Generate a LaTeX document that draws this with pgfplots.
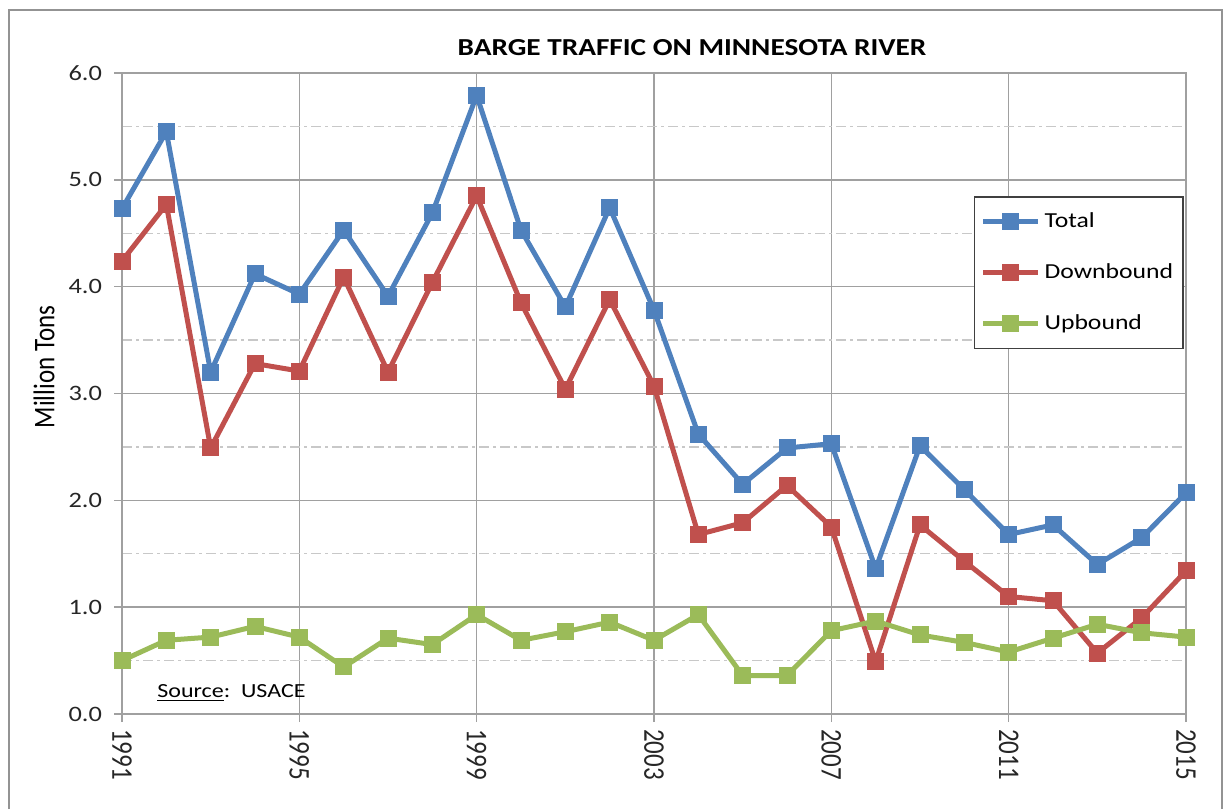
\documentclass[border=0pt]{standalone}
\usepackage{fontspec}
\setmainfont{Carlito}
\usepackage{graphicx}
\usepackage{pgfplots}
\pgfplotsset{compat=1.18}
\definecolor{tot}{HTML}{4F81BD}
\definecolor{dwn}{HTML}{C0504D}
\definecolor{upb}{HTML}{9BBB59}
\definecolor{gridc}{HTML}{A0A0A0}
\definecolor{minc}{HTML}{C8C8C8}
% the reference is stretched sideways, so text is too
\newcommand{\hs}[1]{\scalebox{1.2}[1]{#1}}
\newcommand{\vs}[1]{\scalebox{1}[1.2]{#1}}

\begin{document}
\begin{tikzpicture}
\path[use as bounding box] (-61pt,-47.5pt) rectangle (551.5pt,357pt);
\draw[gray!85, line width=1.2pt] (-56.5pt,-47.5pt) -- (-56.5pt,352pt) -- (550pt,352pt) -- (550pt,-47.5pt);
\begin{axis}[
    scale only axis,
    width=532pt, height=320.5pt,
    xmin=1991, xmax=2015, ymin=0, ymax=6,
    xtick={1991,1995,...,2015},
    ytick={0,1,...,6},
    minor y tick num=1,
    xmajorgrids, ymajorgrids, yminorgrids,
    major grid style={gridc, line width=0.75pt},
    minor grid style={minc, line width=0.6pt, dash pattern=on 5pt off 2pt on 1.5pt off 2pt},
    axis line style={gridc, line width=0.75pt},
    tick style={gridc, line width=0.75pt},
    tick align=outside, major tick length=4pt, minor tick length=0pt,
    xtick pos=lower, ytick pos=left,
    yticklabel={\hs{\pgfmathprintnumber[assume math mode=true,fixed,precision=1,zerofill]{\tick}}},
    xticklabel={\vs{\pgfmathprintnumber[assume math mode=true,fixed,precision=0,1000 sep={}]{\tick}}},
    yticklabel style={font=\fontsize{11}{12}\selectfont, text=black!85, xshift=-2.5pt},
    xticklabel style={font=\fontsize{12.5}{14}\selectfont, rotate=-90, anchor=west, text=black!85},
    legend style={at={(0.998,0.808)}, anchor=north east, draw=black!75, line width=0.75pt,
        font=\fontsize{10.7}{12}\selectfont, row sep=12.5pt, inner xsep=3pt, inner ysep=6pt,
        cells={anchor=west}},
    legend image code/.code={\draw[mark repeat=2, mark phase=2] plot coordinates {(0pt,0pt) (13.75pt,0pt) (27.5pt,0pt)};},
    every axis plot/.append style={line width=2.5pt, mark=square*, mark size=3pt, mark options={solid}},
]
% Total
\addplot[tot] coordinates {
    (1991,4.73) (1992,5.45) (1993,3.20) (1994,4.12) (1995,3.93) (1996,4.53) (1997,3.91)
    (1998,4.69) (1999,5.79) (2000,4.53) (2001,3.81) (2002,4.74) (2003,3.78) (2004,2.62)
    (2005,2.15) (2006,2.49) (2007,2.53) (2008,1.36) (2009,2.51) (2010,2.10) (2011,1.68)
    (2012,1.77) (2013,1.40) (2014,1.65) (2015,2.07)};
% Downbound
\addplot[dwn] coordinates {
    (1991,4.24) (1992,4.77) (1993,2.49) (1994,3.28) (1995,3.21) (1996,4.09) (1997,3.20)
    (1998,4.04) (1999,4.85) (2000,3.85) (2001,3.04) (2002,3.88) (2003,3.07) (2004,1.68)
    (2005,1.79) (2006,2.14) (2007,1.75) (2008,0.49) (2009,1.77) (2010,1.43) (2011,1.10)
    (2012,1.06) (2013,0.57) (2014,0.90) (2015,1.34)};
% Upbound
\addplot[upb] coordinates {
    (1991,0.50) (1992,0.69) (1993,0.72) (1994,0.82) (1995,0.72) (1996,0.44) (1997,0.71)
    (1998,0.65) (1999,0.93) (2000,0.69) (2001,0.77) (2002,0.86) (2003,0.69) (2004,0.93)
    (2005,0.36) (2006,0.36) (2007,0.78) (2008,0.87) (2009,0.74) (2010,0.67) (2011,0.58)
    (2012,0.71) (2013,0.84) (2014,0.76) (2015,0.72)};
\addlegendentry{\hs{Total}}
\addlegendentry{\hs{Downbound}}
\addlegendentry{\hs{Upbound}}
\end{axis}
\node[font=\bfseries\fontsize{12.2}{14}\selectfont] at (285pt,333.2pt) {\hs{BARGE TRAFFIC ON MINNESOTA RIVER}};
\node[font=\fontsize{12.5}{14}\selectfont, rotate=90] at (-39pt,173.5pt) {\vs{Million Tons}};
\node[font=\fontsize{10}{12}\selectfont, anchor=base west, inner sep=0pt] at (17.5pt,8.5pt) {\hs{\underline{Source}:~~USACE}};
\end{tikzpicture}
\end{document}
